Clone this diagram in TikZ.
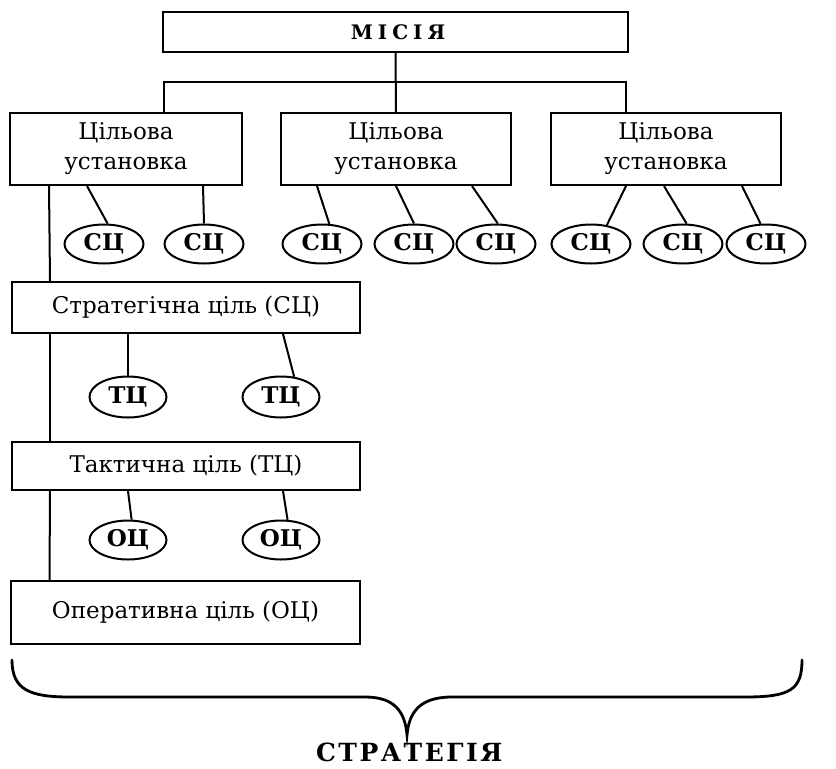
\documentclass[tikz,border=0pt]{standalone}
\usepackage{fontspec}
\setmainfont{DejaVu Serif}
\newfontfamily\spacedfont[LetterSpace=25]{DejaVu Serif}
\newfontfamily\spacedfontb[LetterSpace=10]{DejaVu Serif}
\usetikzlibrary{shapes.geometric,calc}
\tikzset{
  box/.style={draw, rectangle, line width=2pt, inner sep=0pt, align=center,
    font=\fontsize{23}{30}\selectfont},
  goal/.style={draw, ellipse, line width=2pt, inner sep=0pt,
    minimum width=79pt, minimum height=39pt, font=\fontsize{23}{26}\selectfont\bfseries},
  link/.style={line width=2pt},
  title/.style={inner sep=0pt, font=\fontsize{25}{27}\selectfont\spacedfontb\bfseries}
}
\begin{document}
\begin{tikzpicture}[x=1pt,y=-1pt]
\useasboundingbox (0,0) rectangle (836,769);
% top
\node[box, minimum width=465pt, minimum height=40pt] (mis) at (395.5,32)
  {\fontsize{20}{24}\selectfont\spacedfont\bfseries\kern 5pt МІСІЯ};
\node[box, minimum width=232pt, minimum height=72pt] (cu1) at (126,149) {Цільова\\установка};
\node[box, minimum width=230pt, minimum height=72pt] (cu2) at (396,149) {Цільова\\установка};
\node[box, minimum width=230pt, minimum height=72pt] (cu3) at (666,149) {Цільова\\установка};
\coordinate (mbar) at (396,82);
\coordinate (l1) at ([xshift=155pt]cu1.north west);
\coordinate (r1) at ([xshift=76pt]cu3.north west);
\draw[link] (mis.south) -- (cu2.north);
\draw[link] (l1) |- (mbar) -| (r1);
% SC ellipses
\node[goal] (e1) at (104,244) {СЦ};
\node[goal] (e2) at (204,244) {СЦ};
\node[goal] (e3) at (322,244) {СЦ};
\node[goal] (e4) at (414,244) {СЦ};
\node[goal] (e5) at (496,244) {СЦ};
\node[goal] (e6) at (591,244) {СЦ};
\node[goal] (e7) at (683,244) {СЦ};
\node[goal] (e8) at (766,244) {СЦ};
\draw[link] ([xshift=78pt]cu1.south west) -- (e1.80);
\draw[link] ([xshift=194pt]cu1.south west) -- (e2.north);
\draw[link] ([xshift=37pt]cu2.south west) -- (e3.70);
\draw[link] ([xshift=116pt]cu2.south west) -- (e4.north);
\draw[link] ([xshift=192pt]cu2.south west) -- (e5.85);
\draw[link] ([xshift=76pt]cu3.south west) -- (e6.50);
\draw[link] ([xshift=114pt]cu3.south west) -- (e7.80);
\draw[link] ([xshift=192pt]cu3.south west) -- (e8.105);
% left column
\node[box, minimum width=348pt, minimum height=51pt] (sc) at (186,307.5) {Стратегічна ціль (СЦ)};
\node[goal, minimum width=77pt, minimum height=41pt] (t1) at (128,397) {ТЦ};
\node[goal, minimum width=77pt, minimum height=41pt] (t2) at (281,397) {ТЦ};
\node[box, minimum width=348pt, minimum height=48pt] (tc) at (186,466) {Тактична ціль (ТЦ)};
\node[goal, minimum width=77pt, minimum height=39pt] (o1) at (128,540) {ОЦ};
\node[goal, minimum width=77pt, minimum height=39pt] (o2) at (281,540) {ОЦ};
\node[box, minimum width=349pt, minimum height=63pt] (oc) at (185.5,612.5) {Оперативна ціль (ОЦ)};
\draw[link] ([xshift=40pt]cu1.south west) -- ([xshift=39pt]sc.north west);
\draw[link] ([xshift=39pt]sc.south west) -- ([xshift=39pt]tc.north west);
\draw[link] ([xshift=39pt]tc.south west) -- ([xshift=39.5pt]oc.north west);
\draw[link] ([xshift=117pt]sc.south west) -- (t1.north);
\draw[link] ([xshift=272pt]sc.south west) -- (t2.57);
\draw[link] ([xshift=117pt]tc.south west) -- (o1.80);
\draw[link] ([xshift=272pt]tc.south west) -- (o2.72);
% brace
\draw[line width=2.8pt, line cap=round]
  (12,660) .. controls (12,690) and (30,697) .. (70,697) -- (365,697)
  .. controls (395,697) and (405,712) .. (407,735)
  .. controls (409,712) and (420,697) .. (452,697) -- (745,697)
  .. controls (790,697) and (802,690) .. (802,660);
\node[title, anchor=base] (strat) at (408,761) {\kern 2.5pt СТРАТЕГІЯ};
\end{tikzpicture}
\end{document}
